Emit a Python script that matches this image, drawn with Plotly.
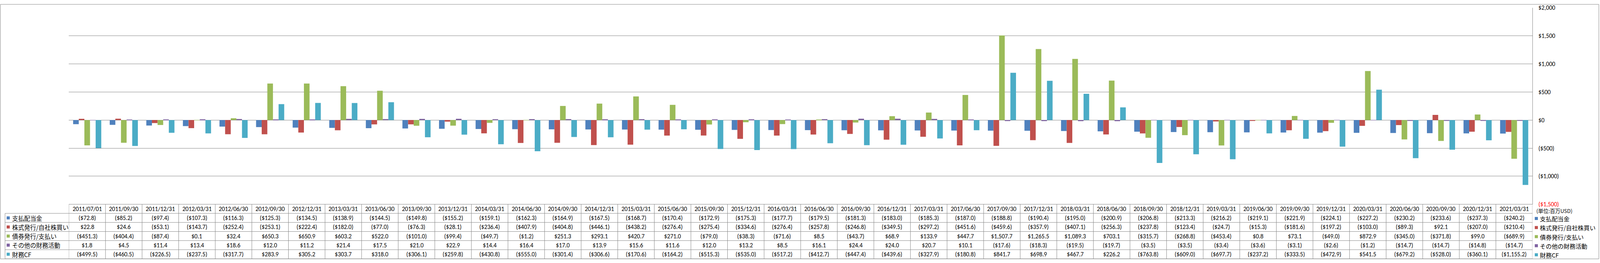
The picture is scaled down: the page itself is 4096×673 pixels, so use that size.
import plotly.graph_objects as go

# ---------------- data ----------------
dates = ["2011/07/01", "2011/09/30", "2011/12/31", "2012/03/31", "2012/06/30", "2012/09/30",
         "2012/12/31", "2013/03/31", "2013/06/30", "2013/09/30", "2013/12/31", "2014/03/31",
         "2014/06/30", "2014/09/30", "2014/12/31", "2015/03/31", "2015/06/30", "2015/09/30",
         "2015/12/31", "2016/03/31", "2016/06/30", "2016/09/30", "2016/12/31", "2017/03/31",
         "2017/06/30", "2017/09/30", "2017/12/31", "2018/03/31", "2018/06/30", "2018/09/30",
         "2018/12/31", "2019/03/31", "2019/06/30", "2019/09/30", "2019/12/31", "2020/03/31",
         "2020/06/30", "2020/09/30", "2020/12/31", "2021/03/31"]

series_names = ["支払配当金", "株式発行/自社株買い", "債券発行/支払い", "その他の財務活動", "財務CF"]

dividends = [-72.8, -85.2, -97.4, -107.3, -116.3, -125.3, -134.5, -138.9, -144.5, -149.8,
             -155.2, -159.1, -162.3, -164.9, -167.5, -168.7, -170.4, -172.9, -175.3, -177.7,
             -179.5, -181.3, -183.0, -185.3, -187.0, -188.8, -190.4, -195.0, -200.9, -206.8,
             -213.3, -216.2, -219.1, -221.9, -224.1, -227.2, -230.2, -233.6, -237.3, -240.2]

stock = [22.8, 24.6, -53.1, -143.7, -252.4, -253.1, -222.4, -182.0, -77.0, -76.3,
         -28.1, -236.4, -407.9, -404.8, -446.1, -438.2, -276.4, -275.4, -334.6, -276.4,
         -257.8, -246.8, -349.5, -297.2, -451.6, -459.6, -357.9, -407.1, -256.3, -237.8,
         -123.4, -24.7, -15.3, -181.6, -197.2, -103.0, -89.3, 92.1, -207.0, -210.4]

debt = [-451.3, -404.4, -87.4, 0.1, 32.4, 650.3, 650.9, 603.2, 522.0, -101.0,
        -99.4, -49.7, -1.2, 251.3, 293.1, 420.7, 271.0, -79.0, -38.3, -71.6,
        8.5, -43.7, 68.9, 133.9, 447.7, 1507.7, 1265.5, 1089.3, 703.1, -315.7,
        -268.8, -453.4, 0.8, 73.1, -49.0, 872.9, -345.0, -371.8, 99.0, -689.9]

other = [1.8, 4.5, 11.4, 13.4, 18.6, 12.0, 11.2, 21.4, 17.5, 21.0,
         22.9, 14.4, 16.4, 17.0, 13.9, 15.6, 11.6, 12.0, 13.2, 8.5,
         16.1, 24.4, 24.0, 20.7, 10.1, -17.6, -18.3, -19.5, -19.7, -3.5,
         -3.5, -3.4, -3.6, -3.1, -2.6, -1.2, -14.7, -14.7, -14.8, -14.7]

fin_cf = [-499.5, -460.5, -226.5, -237.5, -317.7, 283.9, 305.2, 303.7, 318.0, -306.1,
          -259.8, -430.8, -555.0, -301.4, -306.6, -170.6, -164.2, -515.3, -535.0, -517.2,
          -412.7, -447.4, -439.6, -327.9, -180.8, 841.7, 698.9, 467.7, 226.2, -763.8,
          -609.0, -697.7, -237.2, -333.5, -472.9, 541.5, -679.2, -528.0, -360.1, -1155.2]

y_ticks = [-1500, -1000, -500, 0, 500, 1000, 1500, 2000]
unit_label = "(単位:百万USD)"

series_values = [dividends, stock, debt, other, fin_cf]
colors = ["#4F81BD", "#C0504D", "#9BBB59", "#8064A2", "#4BACC6"]

# ---------------- geometry ----------------
W, H = 4096, 673
S = 0.784
GRID = "#868686"
NUM_FONT = "Carlito, Calibri, Lato, sans-serif"
JP_FONT = "Noto Sans CJK JP, sans-serif"

def fx(px):
    return px / W

def fy(py):
    return 1 - py / H

L = 225 * S
R = 5004 * S
T = 13 * S
B = 673 * S
row_edges = [(673 + 30.5 * k) * S for k in range(7)]
row_centers = [(row_edges[k] + row_edges[k + 1]) / 2 for k in range(6)]
TABLE_LEFT = 16.5 * S


def money(v, dec=1):
    s = f"${abs(v):,.{dec}f}"
    return f"({s})" if v < 0 else s


fig = go.Figure()
idx = list(range(len(dates)))
for name, vals, col in zip(series_names, series_values, colors):
    fig.add_trace(go.Bar(x=idx, y=vals, name=name, marker=dict(color=col, line=dict(width=0)),
                         showlegend=False))

tick_text = []
for t in y_ticks:
    lbl = money(t, 0)
    if t == y_ticks[0]:
        lbl = f'<span style="color:#FF0000">{lbl}</span>'
    tick_text.append(lbl)

fig.update_layout(
    width=W, height=H,
    margin=dict(l=0, r=0, t=0, b=0, pad=0),
    paper_bgcolor="white", plot_bgcolor="white",
    barmode="group", bargap=1.5 / 6.5, bargroupgap=0,
    xaxis=dict(domain=[fx(L), fx(R)], range=[-0.5, len(dates) - 0.5], showticklabels=False,
               showgrid=False, zeroline=False, showline=False, ticks="", fixedrange=True),
    yaxis=dict(domain=[fy(B), fy(T)], range=[y_ticks[0], y_ticks[-1]], side="right",
               tickvals=y_ticks, ticktext=tick_text, showgrid=True, gridcolor=GRID, gridwidth=1,
               zeroline=True, zerolinecolor=GRID, zerolinewidth=1,
               showline=True, linecolor=GRID, linewidth=1, ticks="",
               ticklabelstandoff=11,
               tickfont=dict(family=NUM_FONT, size=15.5, color="black")),
)

shapes = []
ann = []
# outer frame
shapes.append(dict(type="rect", xref="paper", yref="paper", x0=fx(1), x1=fx(4093), y0=fy(671.5), y1=fy(1.2),
                   line=dict(color=GRID, width=1), fillcolor="rgba(0,0,0,0)"))
# table horizontal lines
for k, ye in enumerate(row_edges):
    x0 = L if k == 0 else TABLE_LEFT
    shapes.append(dict(type="line", xref="paper", yref="paper", x0=fx(x0), x1=fx(R), y0=fy(ye), y1=fy(ye),
                       line=dict(color=GRID, width=1)))
# table vertical lines
for i in range(len(dates) + 1):
    shapes.append(dict(type="line", xref="x", yref="paper", x0=i - 0.5, x1=i - 0.5,
                       y0=fy(row_edges[0]), y1=fy(row_edges[-1]), line=dict(color=GRID, width=1)))
shapes.append(dict(type="line", xref="paper", yref="paper", x0=fx(TABLE_LEFT), x1=fx(TABLE_LEFT),
                   y0=fy(row_edges[1]), y1=fy(row_edges[-1]), line=dict(color=GRID, width=1)))

# header dates
for i, d in enumerate(dates):
    ann.append(dict(x=i, y=fy(row_centers[0]), xref="x", yref="paper", text=d, showarrow=False,
                    xanchor="center", yanchor="middle", font=dict(family=NUM_FONT, size=15.5, color="black")))
# values
for r, vals in enumerate(series_values):
    yc = fy(row_centers[r + 1])
    for i, v in enumerate(vals):
        ann.append(dict(x=i, y=yc, xref="x", yref="paper", text=money(v), showarrow=False,
                        xanchor="center", yanchor="middle", font=dict(family=NUM_FONT, size=15.5, color="black")))

# table row labels with keys, and right legend
KEY = 8
for r, (name, col) in enumerate(zip(series_names, colors)):
    yc = row_centers[r + 1]
    # left table key
    shapes.append(dict(type="rect", xref="paper", yref="paper", x0=fx(17), x1=fx(17 + KEY),
                       y0=fy(yc + KEY / 2), y1=fy(yc - KEY / 2), line=dict(width=0), fillcolor=col))
    ann.append(dict(x=fx(29), y=fy(yc), xref="paper", yref="paper", text=name, showarrow=False,
                    xanchor="left", yanchor="middle", font=dict(family=JP_FONT, size=15.4, color="black")))
    # right legend
    yl = yc + 1.5
    shapes.append(dict(type="rect", xref="paper", yref="paper", x0=fx(3929), x1=fx(3929 + KEY),
                       y0=fy(yl + KEY / 2), y1=fy(yl - KEY / 2), line=dict(width=0), fillcolor=col))
    ann.append(dict(x=fx(3940), y=fy(yl), xref="paper", yref="paper", text=name, showarrow=False,
                    xanchor="left", yanchor="middle", font=dict(family=JP_FONT, size=15.2, color="black")))

ann.append(dict(x=fx(3931), y=fy(545), xref="paper", yref="paper", text=unit_label, showarrow=False,
                xanchor="left", yanchor="middle", font=dict(family=JP_FONT, size=13.3, color="black")))

fig.update_layout(shapes=shapes, annotations=ann)

fig.write_html("out.html", config={"displayModeBar": False},
               post_script="document.body.style.margin='0';document.body.style.overflow='hidden';")
